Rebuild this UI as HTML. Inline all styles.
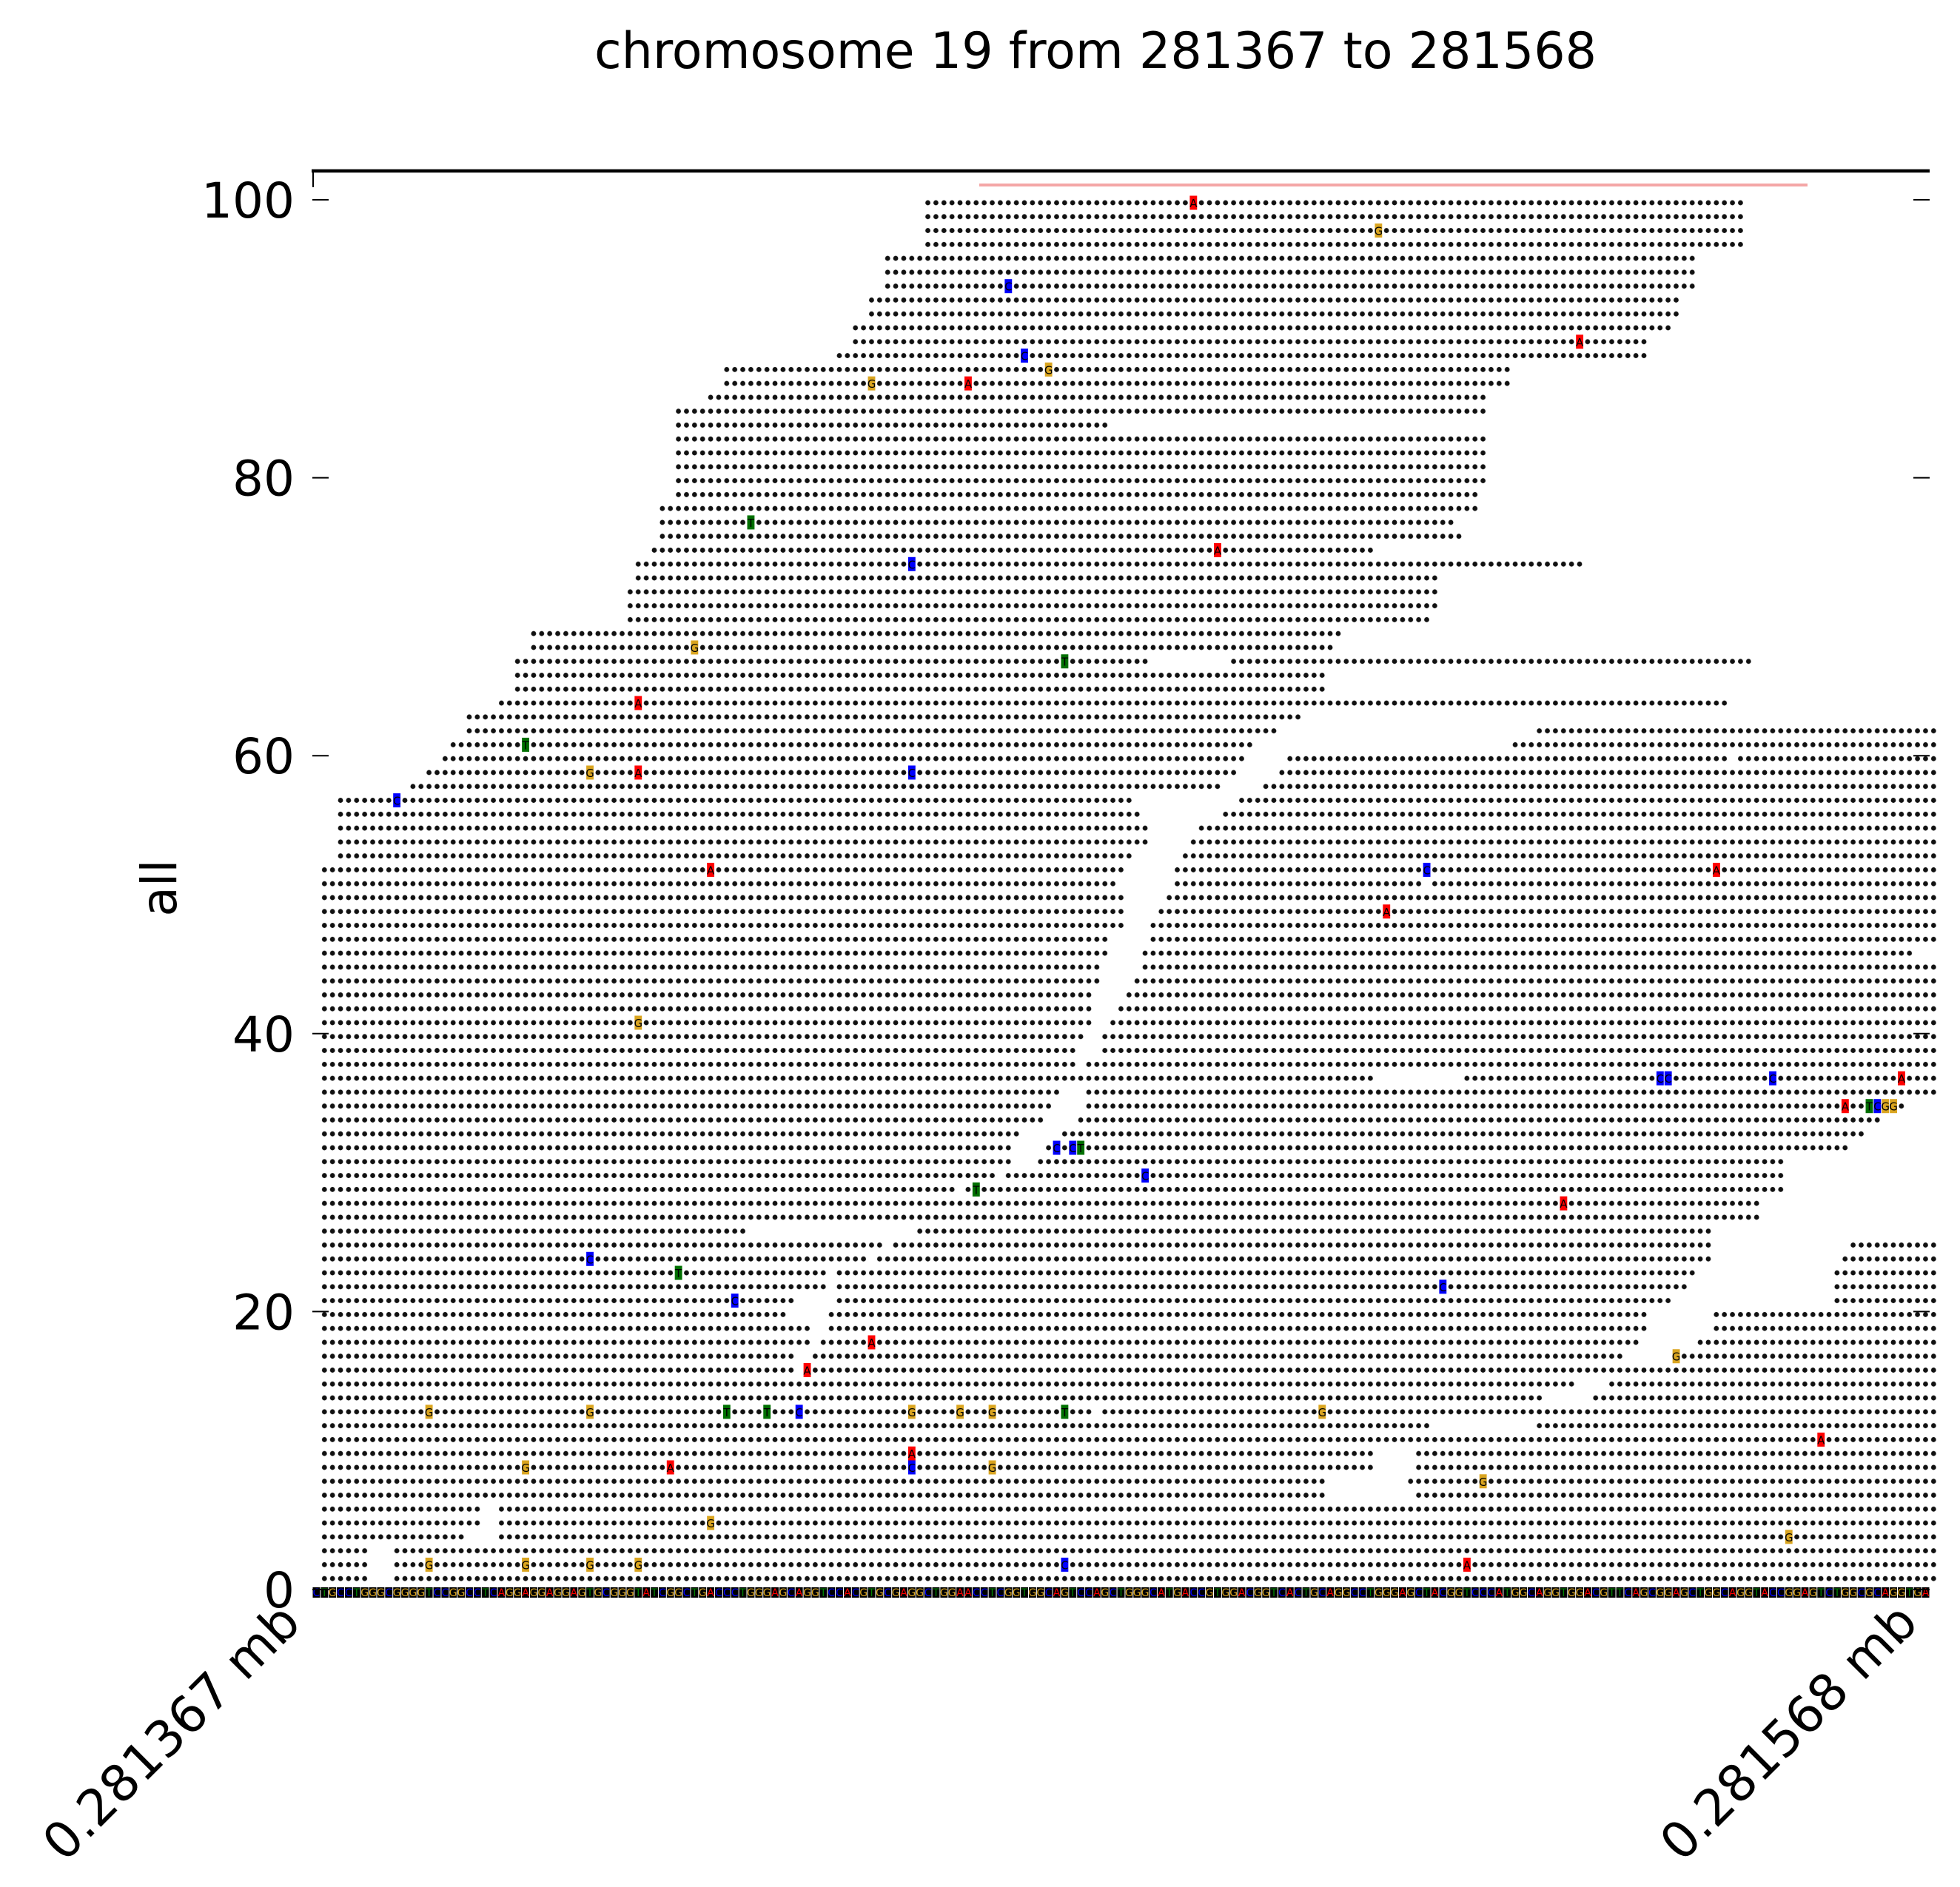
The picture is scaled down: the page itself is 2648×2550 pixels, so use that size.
<!DOCTYPE html>
<html><head><meta charset="utf-8"><style>
html,body{margin:0;padding:0;background:#fff}
svg{display:block}
text{font-family:"DejaVu Sans","Liberation Sans",sans-serif}
</style></head><body>
<svg id="chart" width="2648" height="2550" viewBox="0 0 2648 2550" xmlns="http://www.w3.org/2000/svg">
<defs>
<pattern id="dots" patternUnits="userSpaceOnUse" x="422" y="2142.61" width="10.87" height="18.78">
<circle cx="5.435" cy="9.39" r="3.4" fill="#111"/>
</pattern>
</defs>
<text x="803" y="92" font-size="68" textLength="1354" lengthAdjust="spacingAndGlyphs">chromosome 19 from 281367 to 281568</text>
<line x1="421" y1="231" x2="2607" y2="231" stroke="#000" stroke-width="4.5"/>
<line x1="423" y1="231" x2="423" y2="253" stroke="#000" stroke-width="2"/>
<line x1="1323" y1="250" x2="2442" y2="250" stroke="#f4a6a6" stroke-width="4"/>
<g id="reads"></g>
<g id="marks"></g>
<g id="refseq"></g>
<g id="axes"></g>
<text transform="translate(238,1200) rotate(-90)" font-size="66" text-anchor="middle">all</text>
<text transform="translate(409,2196) rotate(-45)" font-size="68" text-anchor="end">0.281367 mb</text>
<text transform="translate(2594,2196) rotate(-45)" font-size="68" text-anchor="end">0.281568 mb</text>
</svg>
<script>
// read segments: [row, startBase, endBase]
const readSegments = [
[100,76,177],[99,76,177],[98,76,177],[97,76,177],[96,71,171],[95,71,171],[94,71,171],[93,69,169],[92,69,169],[91,67,168],[90,67,165],[89,65,165],
[88,51,148],[87,51,148],[86,49,145],[85,45,145],[84,45,98],[83,45,145],[82,45,145],[81,45,145],[80,45,145],[79,45,144],[78,43,144],[77,43,141],[76,43,142],[75,42,131],
[74,40,157],[73,40,139],[72,39,139],[71,39,139],[70,39,138],[69,27,127],[68,27,126],[67,25,103],[67,114,178],[66,25,125],[65,25,125],[64,23,175],[63,19,122],
[62,19,119],[62,152,201],[61,17,116],[61,149,201],[60,16,115],[60,121,175],[60,177,201],[59,14,114],[59,120,201],[58,12,112],[58,118,201],
[57,3,101],[57,115,201],[56,3,102],[56,113,201],[55,3,103],[55,110,201],[54,3,103],[54,109,201],[53,3,101],[53,108,201],[52,1,100],[52,107,201],
[51,1,36],[51,37,99],[51,107,137],[51,139,201],[50,1,100],[50,106,201],[49,1,100],[49,105,201],[48,1,100],[48,104,201],[47,1,98],[47,104,201],
[46,1,98],[46,103,198],[45,1,97],[45,103,201],[44,1,97],[44,102,201],[43,1,96],[43,101,201],[42,1,96],[42,100,201],[41,1,96],[41,99,201],
[40,1,95],[40,98,201],[39,1,94],[39,98,201],[38,1,94],[38,96,201],[37,1,131],[37,143,201],[36,1,92],[36,96,201],[35,1,91],[35,96,197],
[34,1,90],[34,95,194],[33,1,87],[33,93,192],[32,1,86],[32,91,190],[31,1,86],[31,90,182],[30,1,84],[30,86,182],[29,1,79],[29,81,182],
[28,1,54],[28,55,179],[27,1,53],[27,54,76],[27,76,179],[26,1,53],[26,75,173],[25,1,70],[25,72,173],[25,191,201],[24,1,68],[24,70,173],[24,190,201],
[23,1,63],[23,65,171],[23,189,201],[22,1,63],[22,65,170],[22,189,201],[21,1,59],[21,65,168],[21,189,201],[20,1,58],[20,64,165],[20,174,201],
[19,1,61],[19,64,165],[19,174,201],[18,1,61],[18,63,164],[18,172,201],[17,1,59],[17,62,162],[17,169,201],[16,1,59],[16,61,160],[16,161,201],
[15,1,58],[15,59,156],[15,161,201],[14,1,50],[14,51,152],[14,159,201],[13,1,96],[13,98,201],[12,1,138],[12,152,201],[11,1,11],[11,12,201],
[10,1,131],[10,137,201],[9,1,131],[9,137,201],[8,1,125],[8,136,201],[7,1,125],[7,137,201],[6,1,20],[6,23,201],[5,1,20],[5,23,201],[4,1,18],[4,23,201],
[3,1,6],[3,10,201],[2,1,6],[2,10,201],[1,1,6],[1,10,201]
];
// mismatches: [row, base, nucleotide]
const mismatches = [
[100,109,'A'],[98,132,'G'],[94,86,'C'],[90,157,'A'],[89,88,'C'],[88,91,'G'],[87,69,'G'],[87,81,'A'],[77,54,'T'],[75,112,'A'],[74,74,'C'],
[68,47,'G'],[67,93,'T'],[64,40,'A'],[61,26,'T'],[59,34,'G'],[59,40,'A'],[59,74,'C'],[57,10,'C'],[52,49,'A'],[52,138,'C'],[52,174,'A'],[49,133,'A'],
[41,40,'G'],[37,167,'C'],[37,168,'C'],[37,181,'C'],[37,197,'A'],[35,190,'A'],[35,193,'T'],[35,194,'C'],[35,195,'G'],[35,196,'G'],
[32,92,'C'],[32,94,'C'],[32,95,'T'],[30,103,'C'],[29,82,'T'],[28,155,'A'],[24,34,'C'],[23,45,'T'],[22,140,'C'],[21,52,'C'],[18,69,'A'],[17,169,'G'],[16,61,'A'],
[13,14,'G'],[13,34,'G'],[13,51,'T'],[13,56,'T'],[13,60,'C'],[13,74,'G'],[13,80,'G'],[13,84,'G'],[13,93,'T'],[13,125,'G'],
[11,187,'A'],[10,74,'A'],[9,74,'C'],[9,44,'A'],[9,26,'G'],[9,84,'G'],[8,145,'G'],[5,49,'G'],[4,183,'G'],
[2,14,'G'],[2,26,'G'],[2,34,'G'],[2,40,'G'],[2,93,'C'],[2,143,'A']
];
const refSequence = "CTGCCTGGGCGGGGTCCGGCCTCAGGAGGAGGAGTGCGGGTATCGGCTGACCCTGGGAGCAGGTCCACGTGCGAGGCTGGAACCTCGGTGGCAGTCCAGCTGGGCATGACCGTGGACGGTCACTGCAGGCCTGGGAGCTACGGTCCCATGGCAGGTGGACGTTCAGCGGAGCTGGCAGGTACCGGAGTCTGGCGCAGGTGA";
const yTicks = [0,20,40,60,80,100];

const NS='http://www.w3.org/2000/svg';
const X0=422, BW=2185/201, RY0=2152, RH=18.78, TY0=2148;
const xb = b => X0 + b*BW;
const yr = r => RY0 - r*RH;
const yt = v => TY0 - v*RH;
const fillCol = {A:'#ff0000',C:'#0000ff',T:'#007000',G:'#daa520'};
const refCol = {A:'#ff0000',C:'#0000ff',T:'#008000',G:'#daa520'};
function mk(tag, parent){const e=document.createElementNS(NS,tag);parent.appendChild(e);return e;}

const gReads=document.getElementById('reads');
readSegments.forEach(s=>{
  const r=mk('rect',gReads);
  
  
  r.setAttribute('x',xb(s[1]));
  r.setAttribute('width',(s[2]-s[1]+1)*BW);
  r.setAttribute('y',yr(s[0])-6);
  r.setAttribute('height',12);
  r.setAttribute('fill','url(#dots)');
});

const gM=document.getElementById('marks');
mismatches.forEach(m=>{
  const x=xb(m[1]), y=yr(m[0]);
  const bg=mk('rect',gM);
  
  
  bg.setAttribute('x',x+0.5);bg.setAttribute('y',y-9.5);
  bg.setAttribute('width',BW-1);bg.setAttribute('height',19);
  bg.setAttribute('fill',fillCol[m[2]]);
  const t=mk('text',gM);
  
  
  t.setAttribute('x',x+BW/2);t.setAttribute('y',y+6);
  t.setAttribute('font-size','15');t.setAttribute('text-anchor','middle');t.setAttribute('fill','#000');
  t.textContent=m[2];
});

const gR=document.getElementById('refseq');
for(let i=0;i<refSequence.length;i++){
  const c=refSequence[i], x=xb(i);
  const bg=mk('rect',gR);
  
  
  bg.setAttribute('x',x+0.5);bg.setAttribute('y',2145);
  bg.setAttribute('width',BW-1);bg.setAttribute('height',14);
  bg.setAttribute('fill','#000');
  const t=mk('text',gR);
  
  
  t.setAttribute('x',x+BW/2);t.setAttribute('y',2157);
  t.setAttribute('font-size','14');t.setAttribute('text-anchor','middle');t.setAttribute('fill',refCol[c]);
  t.textContent=c;
}

const gA=document.getElementById('axes');
yTicks.forEach(v=>{
  const y=yt(v);
  const l=mk('line',gA);
  
  
  l.setAttribute('x1',X0);l.setAttribute('x2',X0+22);l.setAttribute('y1',y);l.setAttribute('y2',y);
  l.setAttribute('stroke','#000');l.setAttribute('stroke-width','2');
  const l2=mk('line',gA);
  
  
  l2.setAttribute('x1',2585);l2.setAttribute('x2',2607);l2.setAttribute('y1',y);l2.setAttribute('y2',y);
  l2.setAttribute('stroke','#000');l2.setAttribute('stroke-width','2');
  const t=mk('text',gA);
  
  
  t.setAttribute('x',398);t.setAttribute('y',y+24);
  t.setAttribute('font-size','66');t.setAttribute('text-anchor','end');
  t.textContent=v;
});
</script>
</body></html>
